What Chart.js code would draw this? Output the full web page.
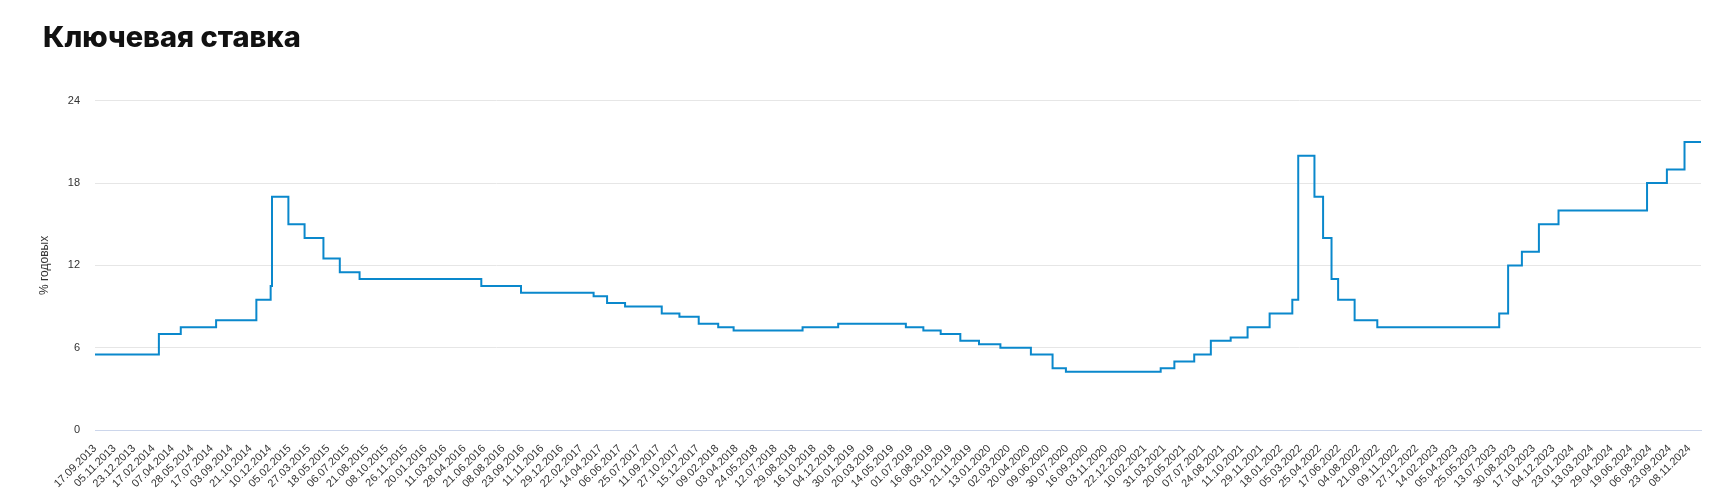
<!DOCTYPE html>
<html lang="ru">
<head>
<meta charset="utf-8">
<title>Ключевая ставка</title>
<script src="https://cdn.jsdelivr.net/npm/chart.js@4.4.1/dist/chart.umd.min.js"></script>
<style>
  html, body { margin: 0; padding: 0; background: #fff; }
  #chart { display: block; }
</style>
</head>
<body>
<canvas id="chart" width="1735" height="498"></canvas>
<script>
// подписи оси X (каждая ~33-я торговая дата)
const TICK_LABELS = [
  "17.09.2013", "05.11.2013", "23.12.2013", "17.02.2014", "07.04.2014", "28.05.2014", "17.07.2014", "03.09.2014", "21.10.2014", "10.12.2014",
  "05.02.2015", "27.03.2015", "18.05.2015", "06.07.2015", "21.08.2015", "08.10.2015", "26.11.2015", "20.01.2016", "11.03.2016", "28.04.2016",
  "21.06.2016", "08.08.2016", "23.09.2016", "11.11.2016", "29.12.2016", "22.02.2017", "14.04.2017", "06.06.2017", "25.07.2017", "11.09.2017",
  "27.10.2017", "15.12.2017", "09.02.2018", "03.04.2018", "24.05.2018", "12.07.2018", "29.08.2018", "16.10.2018", "04.12.2018", "30.01.2019",
  "20.03.2019", "14.05.2019", "01.07.2019", "16.08.2019", "03.10.2019", "21.11.2019", "13.01.2020", "02.03.2020", "20.04.2020", "09.06.2020",
  "30.07.2020", "16.09.2020", "03.11.2020", "22.12.2020", "10.02.2021", "31.03.2021", "20.05.2021", "07.07.2021", "24.08.2021", "11.10.2021",
  "29.11.2021", "18.01.2022", "05.03.2022", "25.04.2022", "17.06.2022", "04.08.2022", "21.09.2022", "09.11.2022", "27.12.2022", "14.02.2023",
  "05.04.2023", "25.05.2023", "13.07.2023", "30.08.2023", "17.10.2023", "04.12.2023", "23.01.2024", "13.03.2024", "29.04.2024", "19.06.2024",
  "06.08.2024", "23.09.2024", "08.11.2024"
];

// даты изменения ставки и значения (% годовых)
const RATE_DATES = [
  "17.09.2013", "03.03.2014", "28.04.2014", "28.07.2014", "05.11.2014", "12.12.2014", "16.12.2014",
  "02.02.2015", "16.03.2015", "05.05.2015", "16.06.2015", "03.08.2015",
  "14.06.2016", "19.09.2016",
  "27.03.2017", "02.05.2017", "19.06.2017", "18.09.2017", "30.10.2017", "18.12.2017",
  "12.02.2018", "26.03.2018", "17.09.2018", "17.12.2018",
  "17.06.2019", "29.07.2019", "09.09.2019", "28.10.2019", "16.12.2019",
  "10.02.2020", "27.04.2020", "22.06.2020", "27.07.2020",
  "22.03.2021", "26.04.2021", "15.06.2021", "26.07.2021", "13.09.2021", "25.10.2021", "20.12.2021",
  "14.02.2022", "28.02.2022", "11.04.2022", "04.05.2022", "27.05.2022", "14.06.2022", "25.07.2022", "19.09.2022",
  "24.07.2023", "15.08.2023", "18.09.2023", "30.10.2023", "18.12.2023",
  "29.07.2024", "16.09.2024", "28.10.2024", "06.12.2024"
];
const RATE_VALUES = [
  5.5, 7, 7.5, 8, 9.5, 10.5, 17,
  15, 14, 12.5, 11.5, 11,
  10.5, 10,
  9.75, 9.25, 9, 8.5, 8.25, 7.75,
  7.5, 7.25, 7.5, 7.75,
  7.5, 7.25, 7, 6.5, 6.25,
  6, 5.5, 4.5, 4.25,
  4.5, 5, 5.5, 6.5, 6.75, 7.5, 8.5,
  9.5, 20, 17, 14, 11, 9.5, 8, 7.5,
  8.5, 12, 13, 15, 16,
  18, 19, 21, 21
];

const Y_TICKS = [0, 6, 12, 18, 24];

function dayNum(s) {
  const [d, m, y] = s.split(".").map(Number);
  return Date.UTC(y, m - 1, d) / 86400000;
}

// дата -> позиция на оси (в шагах подписей), ось построена по торговым дням
const tickDays = TICK_LABELS.map(dayNum);
function datePos(s) {
  const t = dayNum(s);
  const n = tickDays.length;
  for (let i = 0; i < n - 1; i++) {
    if (t <= tickDays[i + 1]) return i + (t - tickDays[i]) / (tickDays[i + 1] - tickDays[i]);
  }
  const step = tickDays[n - 1] - tickDays[n - 2];
  return n - 1 + (t - tickDays[n - 1]) / step;
}

const points = RATE_DATES.map((d, i) => ({ x: datePos(d), y: RATE_VALUES[i] }));
const xEnd = points[points.length - 1].x;

const LABEL_COLOR = "#333333";

new Chart(document.getElementById("chart"), {
  type: "line",
  data: {
    datasets: [{
      label: "Ключевая ставка",
      data: points,
      stepped: true,
      borderColor: "#0a88cc",
      borderWidth: 2,
      pointRadius: 0,
      fill: false,
    }],
  },
  options: {
    responsive: false,
    animation: false,
    layout: { padding: { left: 43, right: 34, top: 0, bottom: 0 } },
    plugins: {
      legend: { display: false },
      tooltip: { enabled: false },
      title: {
        display: true,
        text: "Ключевая ставка",
        align: "start",
        color: "#111111",
        font: { family: "Inter", size: 29, weight: "800" },
        padding: { top: 21, bottom: 45 },
      },
    },
    scales: {
      x: {
        type: "linear",
        min: 0,
        max: xEnd,
        afterBuildTicks: (s) => { s.ticks = TICK_LABELS.map((_, i) => ({ value: i })); },
        afterFit: (s) => { s.height = 68; },
        grid: { display: false },
        border: { display: true, color: "#ccd6eb", width: 1 },
        ticks: {
          autoSkip: false,
          maxRotation: 45,
          minRotation: 45,
          padding: 4,
          color: LABEL_COLOR,
          font: { family: "Liberation Sans", size: 11 },
          callback: (v) => TICK_LABELS[v] ?? "",
        },
      },
      y: {
        min: 0,
        max: 24,
        afterBuildTicks: (s) => { s.ticks = Y_TICKS.map((v) => ({ value: v })); },
        afterFit: (s) => { s.width = 52; },
        grid: { color: "#e6e6e6", drawTicks: false },
        border: { display: false },
        ticks: {
          padding: 15,
          color: LABEL_COLOR,
          font: { family: "Liberation Sans", size: 11 },
        },
        title: {
          display: true,
          text: "% годовых",
          color: LABEL_COLOR,
          font: { family: "Liberation Sans", size: 12 },
          padding: { top: -6, bottom: 0 },
        },
      },
    },
  },
});
</script>
</body>
</html>
